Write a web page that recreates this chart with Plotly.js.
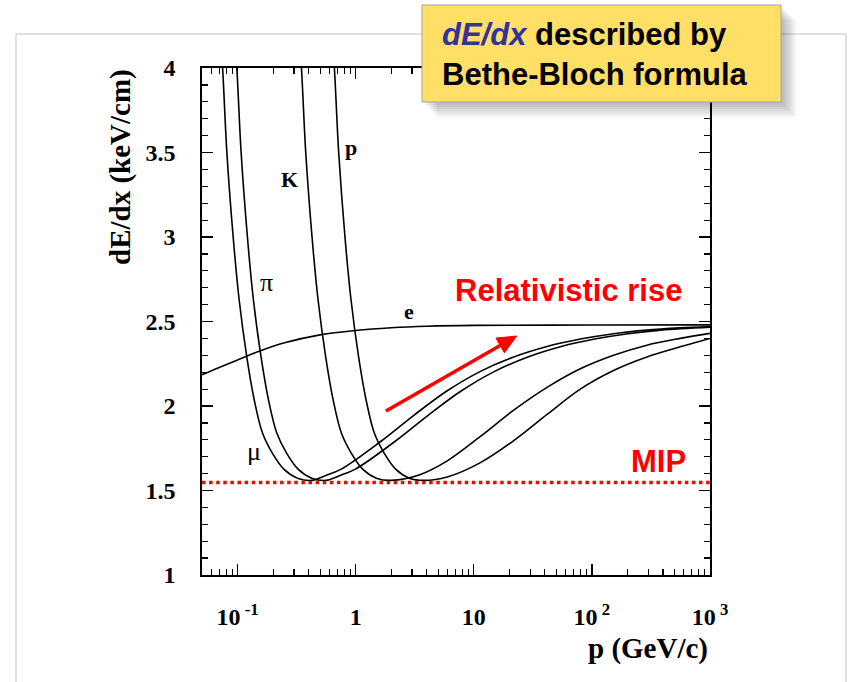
<!DOCTYPE html>
<html>
<head>
<meta charset="utf-8">
<script src="https://cdn.plot.ly/plotly-3.0.1.min.js"></script>
<style>
  html, body { margin: 0; padding: 0; background: #ffffff; }
  #chart { width: 848px; height: 682px; }
</style>
</head>
<body>
<div id="chart"></div>
<script>
// ---------- data ----------
const pMu    = [0.0656, 0.0747, 0.0812, 0.0918, 0.1031, 0.1198, 0.1381, 0.1627, 0.1976, 0.2477, 0.3215, 0.4305, 0.5395, 0.7467, 1.627, 3.11, 5.96, 11.39, 21.78, 41.73, 79.8, 152.6, 292.3, 558.7, 1000];
const dEdxMu = [4.6, 4.0, 3.5, 3.0, 2.63, 2.289, 2.04, 1.84, 1.72, 1.625, 1.573, 1.56, 1.585, 1.625, 1.79, 1.945, 2.09, 2.205, 2.29, 2.352, 2.396, 2.428, 2.449, 2.462, 2.47];

const pPi    = [0.0866, 0.0986, 0.1072, 0.1212, 0.1361, 0.1582, 0.1823, 0.2148, 0.2608, 0.327, 0.4244, 0.5683, 0.7121, 0.9856, 2.148, 4.105, 7.87, 15.03, 28.75, 55.08, 105.3, 201.4, 385.8, 1000];
const dEdxPi = [4.6, 4.0, 3.5, 3.0, 2.63, 2.289, 2.04, 1.84, 1.72, 1.625, 1.573, 1.56, 1.585, 1.625, 1.79, 1.945, 2.09, 2.205, 2.29, 2.352, 2.396, 2.428, 2.449, 2.466];

const pK     = [0.3051, 0.3475, 0.3778, 0.4272, 0.4801, 0.5578, 0.6429, 0.757, 0.9196, 1.152, 1.496, 2.004, 3.543, 5.96, 11.39, 21.78, 41.73, 79.8, 152.6, 292.3, 558.7, 1000];
const dEdxK  = [4.6, 4.0, 3.5, 3.0, 2.63, 2.289, 2.04, 1.84, 1.72, 1.625, 1.573, 1.56, 1.595, 1.675, 1.82, 1.975, 2.11, 2.22, 2.30, 2.36, 2.40, 2.43];

const pP     = [0.5799, 0.6605, 0.7183, 0.8119, 0.9127, 1.06, 1.222, 1.439, 1.748, 2.191, 2.844, 3.808, 5.96, 11.39, 21.78, 41.73, 79.8, 152.6, 292.3, 558.7, 1000];
const dEdxP  = [4.6, 4.0, 3.5, 3.0, 2.63, 2.289, 2.04, 1.84, 1.72, 1.625, 1.573, 1.56, 1.58, 1.665, 1.795, 1.95, 2.1, 2.21, 2.29, 2.35, 2.40];

const pE     = [0.05, 0.07, 0.1, 0.15, 0.25, 0.5, 1, 2, 4, 10, 100, 1000];
const dEdxE  = [2.185, 2.228, 2.272, 2.322, 2.374, 2.421, 2.447, 2.463, 2.472, 2.477, 2.479, 2.48];

const mipP     = [0.05, 1000];
const mipLevel = [1.547, 1.547];

const xTickVals = [0.1, 1, 10, 100, 1000];
const xTickText = ["10<sup> -1</sup>", "1", "10", "10<sup> 2</sup>", "10<sup> 3</sup>"];
const yTickVals = [1, 1.5, 2, 2.5, 3, 3.5, 4];
const yTickText = ["1", "1.5", "2", "2.5", "3", "3.5", "4"];

const curveLabels = ["p", "K", "\u03c0", "\u03bc", "e"];

// ---------- layout helpers (pixel -> paper) ----------
const L = 202, R = 710, T = 68, B = 575;
const px = v => (v - L) / (R - L);
const py = v => (B - v) / (B - T);

const curveLine = {color: "#000000", width: 1.6, shape: "spline", smoothing: 1};
function curve(x, y, name) {
  return {x: x, y: y, name: name, type: "scatter", mode: "lines", line: curveLine, hoverinfo: "skip"};
}

const traces = [
  curve(pMu, dEdxMu, "mu"),
  curve(pPi, dEdxPi, "pi"),
  curve(pK, dEdxK, "K"),
  curve(pP, dEdxP, "p"),
  curve(pE, dEdxE, "e"),
  {x: mipP, y: mipLevel, type: "scatter", mode: "lines", name: "MIP",
   line: {color: "#ff0000", width: 3.5, dash: "3.5px,3.6px"}, hoverinfo: "skip", cliponaxis: false}
];

const serif = "Liberation Serif, Times New Roman, serif";
const sans = "Liberation Sans, Arial, sans-serif";

const shapes = [];
// slide frame
const frameC = "#c3c3c3";
shapes.push({type: "line", xref: "paper", yref: "paper", x0: px(16), x1: px(846), y0: py(34), y1: py(34), line: {color: frameC, width: 1}, layer: "below"});
shapes.push({type: "line", xref: "paper", yref: "paper", x0: px(16), x1: px(16), y0: py(34), y1: py(700), line: {color: frameC, width: 1}, layer: "below"});
shapes.push({type: "line", xref: "paper", yref: "paper", x0: px(846), x1: px(846), y0: py(34), y1: py(700), line: {color: frameC, width: 1}, layer: "below"});
// box shadow
for (let i = 0; i < 7; i++) {
  const o = 3 + 2 * i;
  shapes.push({type: "rect", xref: "paper", yref: "paper",
    x0: px(422 + o), x1: px(781 + o), y0: py(5 + o), y1: py(102 + o),
    fillcolor: "rgba(0,0,0,0.04)", line: {width: 0}, layer: "above"});
}
// yellow box
shapes.push({type: "rect", xref: "paper", yref: "paper",
  x0: px(422), x1: px(781), y0: py(5), y1: py(102),
  fillcolor: "#ffdf66", line: {color: "#a3a3a3", width: 1}, layer: "above"});

// red "relativistic rise" arrow (shaft + head), in pixel-derived paper coords
const arrTail = [386, 411], arrTip = [516.7, 336];
(function () {
  const dx = arrTip[0] - arrTail[0], dy = arrTip[1] - arrTail[1];
  const len = Math.hypot(dx, dy), ux = dx / len, uy = dy / len;
  const hl = 19, hw = 8.5;
  const bx = arrTip[0] - hl * ux, by = arrTip[1] - hl * uy;
  const c1 = [bx - hw * uy, by + hw * ux], c2 = [bx + hw * uy, by - hw * ux];
  shapes.push({type: "line", xref: "paper", yref: "paper",
    x0: px(arrTail[0]), y0: py(arrTail[1]), x1: px(bx + 2 * ux), y1: py(by + 2 * uy),
    line: {color: "#ff0000", width: 3.6}, layer: "above"});
  shapes.push({type: "path", xref: "paper", yref: "paper",
    path: "M" + px(arrTip[0]) + "," + py(arrTip[1]) + " L" + px(c1[0]) + "," + py(c1[1]) +
          " L" + px(c2[0]) + "," + py(c2[1]) + " Z",
    fillcolor: "#ff0000", line: {color: "#ff0000", width: 1}, layer: "above"});
})();

const lx = (v) => Math.log10(v);
const annotations = [
  // curve labels
  {x: lx(0.907), y: 3.528, text: curveLabels[0], showarrow: false, font: {family: serif, size: 22, weight: "bold", color: "black"}},
  {x: lx(0.273), y: 3.338, text: curveLabels[1], showarrow: false, font: {family: serif, size: 22, weight: "bold", color: "black"}},
  {x: lx(0.177), y: 2.728, text: curveLabels[2], showarrow: false, font: {family: serif, size: 26, color: "black"}},
  {x: lx(0.138), y: 1.731, text: curveLabels[3], showarrow: false, font: {family: serif, size: 26, color: "black"}},
  {x: lx(2.823), y: 2.562, text: curveLabels[4], showarrow: false, font: {family: serif, size: 22, weight: "bold", color: "black"}},
  // relativistic rise text
  {x: lx(63.2), y: 2.682, text: "Relativistic rise", showarrow: false, font: {family: sans, size: 31, weight: "bold", color: "#ff0000"}},
  // MIP
  {x: lx(364), y: 1.67, text: "MIP", showarrow: false, font: {family: sans, size: 31, weight: "bold", color: "#ff0000"}},
  // axis titles
  {xref: "paper", yref: "paper", x: 1.0, xanchor: "right", y: py(648), yanchor: "middle",
   text: "p (GeV/c)", showarrow: false, font: {family: serif, size: 29, weight: "bold", color: "black"}},
  {xref: "paper", yref: "paper", x: px(120), xanchor: "center", y: py(167), yanchor: "middle", textangle: -90,
   text: "dE/dx (keV/cm)", showarrow: false, font: {family: serif, size: 29, weight: "bold", color: "black"}},
  // box text
  {xref: "paper", yref: "paper", x: px(440), xanchor: "left", y: py(54), yanchor: "middle", align: "left",
   text: "<span style='color:#333399'><i>dE/dx</i></span> described by<br>Bethe-Bloch formula",
   showarrow: false, font: {family: sans, size: 31, weight: "bold", color: "black"}}
];

const axisCommon = {
  showline: true, linecolor: "black", linewidth: 1.6, mirror: "allticks",
  ticks: "inside", ticklen: 11, tickwidth: 1.3, tickcolor: "black",
  showgrid: false, zeroline: false, fixedrange: true
};

const layout = {
  width: 848, height: 682,
  margin: {l: L, r: 848 - R, t: T, b: 682 - B, pad: 0},
  paper_bgcolor: "white", plot_bgcolor: "white",
  showlegend: false,
  xaxis: Object.assign({}, axisCommon, {
    type: "log", range: [Math.log10(0.05), 3],
    tickmode: "array", tickvals: xTickVals, ticktext: xTickText,
    tickfont: {family: serif, size: 24, weight: "bold", color: "black"},
    ticklabelstandoff: 20,
    minor: {ticks: "inside", ticklen: 6, tickwidth: 1.2, tickcolor: "black", dtick: "D1", showgrid: false}
  }),
  yaxis: Object.assign({}, axisCommon, {
    range: [1, 4],
    tickmode: "array", tickvals: yTickVals, ticktext: yTickText,
    tickfont: {family: serif, size: 24, weight: "bold", color: "black"},
    ticklabelstandoff: 20,
    minor: {ticks: "inside", ticklen: 6, tickwidth: 1.2, tickcolor: "black", dtick: 0.1, showgrid: false}
  }),
  shapes: shapes,
  annotations: annotations
};

Plotly.newPlot("chart", traces, layout, {displayModeBar: false, staticPlot: true});
</script>
</body>
</html>
